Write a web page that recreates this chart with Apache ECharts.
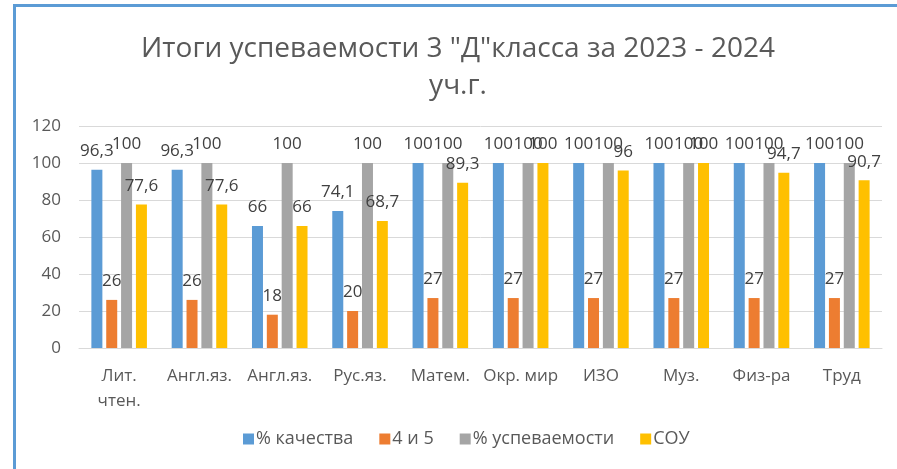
<!DOCTYPE html>
<html>
<head>
<meta charset="utf-8">
<script src="https://cdn.jsdelivr.net/npm/echarts@6/dist/echarts.min.js"></script>
<style>
  html, body { margin: 0; padding: 0; background: #fff; }
  #chart { width: 897px; height: 469px; position: relative; }
  .frame {
    position: absolute; left: 13px; top: 4px; right: -10px; bottom: -10px;
    border-top: 3px solid #5b9bd5; border-left: 3px solid #5b9bd5;
    pointer-events: none; z-index: 5;
  }
</style>
</head>
<body>
<div style="position:relative;width:897px;height:469px;overflow:hidden">
  <div id="chart"></div>
  <div class="frame"></div>
</div>
<script>
// предметы
const categories = ['Лит.\nчтен.', 'Англ.яз.', 'Англ.яз.', 'Рус.яз.', 'Матем.', 'Окр. мир', 'ИЗО', 'Муз.', 'Физ-ра', 'Труд']
const quality = [96.3, 96.3, 66, 74.1, 100, 100, 100, 100, 100, 100]
const fourFive = [26, 26, 18, 20, 27, 27, 27, 27, 27, 27]
const progress = [100, 100, 100, 100, 100, 100, 100, 100, 100, 100]
const sou = [77.6, 77.6, 66, 68.7, 89.3, 100, 96, 100, 94.7, 90.7]
const seriesNames = ['% качества', '4 и 5', '% успеваемости', 'СОУ']
const colors = ['#5b9bd5', '#ed7d31', '#a5a5a5', '#ffc000']

const font = "'Open Sans', 'DejaVu Sans', sans-serif"

const makeSeries = (name, data) => ({
  name,
  type: 'bar',
  data,
  barWidth: 11,
  barGap: '35%',
  label: {
    show: true,
    position: 'top',
    distance: 10,
    color: '#404040',
    fontSize: 17,
    fontFamily: font,
    formatter: (p) => String(p.value).replace('.', ','),
  },
})

const chart = echarts.init(document.getElementById('chart'))
chart.setOption({
  animation: false,
  color: colors,
  title: {
    text: 'Итоги успеваемости 3 "Д"класса за 2023 - 2024\nуч.г.',
    left: 453,
    textAlign: 'center',
    top: 26,
    textStyle: {
      color: '#595959',
      fontSize: 28,
      fontWeight: 'normal',
      fontFamily: font,
      lineHeight: 37,
    },
  },
  grid: { left: 79, right: 15, top: 126, bottom: 121 },
  legend: {
    bottom: 16,
    left: 238,
    icon: 'rect',
    itemWidth: 11,
    itemHeight: 11,
    itemGap: 26,
    textStyle: { color: '#595959', fontSize: 18, fontFamily: font, padding: [0, 0, 0, -3] },
    data: seriesNames,
  },
  xAxis: {
    type: 'category',
    data: categories,
    axisLine: { lineStyle: { color: '#d9d9d9' } },
    axisTick: { show: false },
    axisLabel: { color: '#595959', fontSize: 17, fontFamily: font, margin: 16, lineHeight: 25, interval: 0 },
  },
  yAxis: {
    type: 'value',
    min: 0,
    max: 120,
    interval: 20,
    axisLine: { show: false },
    axisTick: { show: false },
    splitLine: { lineStyle: { color: '#d9d9d9' } },
    axisLabel: { color: '#595959', fontSize: 17, fontFamily: font, margin: 18 },
  },
  series: [
    makeSeries(seriesNames[0], quality),
    makeSeries(seriesNames[1], fourFive),
    makeSeries(seriesNames[2], progress),
    makeSeries(seriesNames[3], sou),
  ],
})
</script>
</body>
</html>
